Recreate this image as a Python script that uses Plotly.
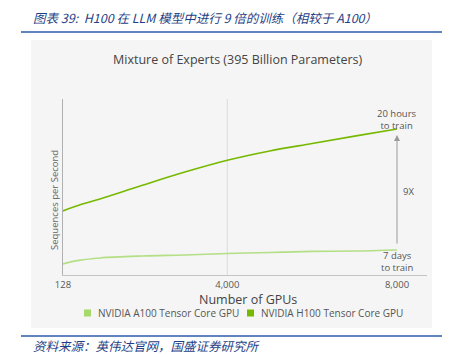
import plotly.graph_objects as go

# ---- data ----
gpus = [128, 500, 1000, 2000, 3000, 4000, 5000, 6000, 7000, 8000]
h100 = [36.4, 39.6, 43.2, 51.0, 58.5, 65.2, 70.5, 74.7, 78.9, 83.0]
a100 = [6.3, 8.3, 9.7, 10.8, 11.4, 12.2, 12.8, 13.4, 13.6, 14.2]
tick_vals = [128, 4000, 8000]
tick_text = ["128", "4,000", "8,000"]
series_names = ["NVIDIA A100 Tensor Core GPU", "NVIDIA H100 Tensor Core GPU"]
series_colors = ["#b3df85", "#76b900"]
legend_colors = ["#a6d86a", "#76b900"]

W, H = 449, 357
L, R, T, B = 63, 427, 99, 275  # plot area in pixels


def px(x):
    return (x - L) / (R - L)


def py(y):
    return (B - y) / (B - T)


fig = go.Figure()
fig.add_trace(go.Scatter(x=gpus, y=a100, mode="lines", name=series_names[0],
                         line=dict(color=series_colors[0], width=1.6, shape="spline"),
                         showlegend=False, hoverinfo="skip"))
fig.add_trace(go.Scatter(x=gpus, y=h100, mode="lines", name=series_names[1],
                         line=dict(color=series_colors[1], width=1.6, shape="spline"),
                         showlegend=False, hoverinfo="skip"))

font = "Open Sans, DejaVu Sans, sans-serif"
cjk = "Noto Sans CJK SC"

shapes = [
    # panel background
    dict(type="rect", xref="paper", yref="paper", x0=px(31), x1=px(432), y0=py(328), y1=py(40),
         fillcolor="#f5f5f5", line=dict(width=0), layer="below"),
    # header / footer rules
    dict(type="line", xref="paper", yref="paper", x0=px(21), x1=px(442), y0=py(32), y1=py(32),
         line=dict(color="#2d5aa8", width=1.6)),
    dict(type="line", xref="paper", yref="paper", x0=px(21), x1=px(442), y0=py(336), y1=py(336),
         line=dict(color="#2d5aa8", width=1.6)),
    # gridline at 4,000
    dict(type="line", xref="x", yref="paper", x0=tick_vals[1], x1=tick_vals[1], y0=0, y1=1,
         line=dict(color="#dcdcdc", width=1), layer="below"),
]

annotations = [
    dict(text="图表 39:  H100 在 LLM 模型中进行 9 倍的训练（相较于 A100）", xref="paper", yref="paper",
         x=px(31), y=py(17), xanchor="left", yanchor="middle", showarrow=False,
         font=dict(family=cjk, size=12.5, color="#1f3f86", style="italic")),
    dict(text="资料来源：英伟达官网，国盛证券研究所", xref="paper", yref="paper",
         x=px(31), y=py(345), xanchor="left", yanchor="middle", showarrow=False,
         font=dict(family=cjk, size=12.5, color="#1f3f86", style="italic")),
    dict(text="Mixture of Experts (395 Billion Parameters)", xref="paper", yref="paper",
         x=px(237), y=py(59), xanchor="center", yanchor="middle", showarrow=False,
         font=dict(family=font, size=12.5, color="#444")),
    dict(text="Sequences per Second", xref="paper", yref="paper", textangle=-90,
         x=px(54), y=py(200), xanchor="center", yanchor="middle", showarrow=False,
         font=dict(family=font, size=9.5, color="#666")),
    dict(text="Number of GPUs", xref="paper", yref="paper",
         x=px(248), y=py(299.5), xanchor="center", yanchor="middle", showarrow=False,
         font=dict(family=font, size=12.5, color="#444")),
    dict(text="20 hours<br>to train", xref="x", yref="y", x=gpus[-1], y=88.6,
         xanchor="center", yanchor="middle", showarrow=False,
         font=dict(family=font, size=9.5, color="#555")),
    dict(text="7 days<br>to train", xref="x", yref="y", x=gpus[-1], y=7.4,
         xanchor="center", yanchor="middle", showarrow=False,
         font=dict(family=font, size=9.5, color="#555")),
    dict(text="9X", xref="x", yref="y", x=gpus[-1], y=47.7, xshift=4,
         xanchor="left", yanchor="middle", showarrow=False,
         font=dict(family=font, size=9.5, color="#555")),
    dict(text="", xref="x", yref="y", x=gpus[-1], y=79.5, axref="x", ayref="y", ax=gpus[-1], ay=17,
         showarrow=True, arrowhead=2, arrowsize=1.2, arrowwidth=1, arrowcolor="#999"),
]

# legend drawn as squares + labels
legend_x = [84, 247]
for name, c, lx in zip(series_names, legend_colors, legend_x):
    shapes.append(dict(type="rect", xref="paper", yref="paper", x0=px(lx), x1=px(lx + 7),
                       y0=py(316.5), y1=py(309.5), fillcolor=c, line=dict(width=0)))
    annotations.append(dict(text=name, xref="paper", yref="paper", x=px(lx + 12), y=py(313),
                            xanchor="left", yanchor="middle", showarrow=False,
                            font=dict(family=font, size=10, color="#555")))

fig.update_layout(
    width=W, height=H,
    margin=dict(l=L, r=W - R, t=T, b=H - B, pad=0),
    paper_bgcolor="white", plot_bgcolor="#f5f5f5",
    shapes=shapes, annotations=annotations,
    showlegend=False,
    xaxis=dict(range=[128, 8707], tickvals=tick_vals, ticktext=tick_text, showgrid=False,
               zeroline=False, showline=True, linecolor="#c4c4c4", linewidth=1.2, ticks="",
               tickfont=dict(family=font, size=9.5, color="#555"), ticklabelstandoff=0),
    yaxis=dict(range=[0, 100], showticklabels=False, showgrid=False, zeroline=False,
               showline=True, linecolor="#b0b0b0", linewidth=1.2, ticks=""),
)

fig.write_html("out.html", config={"displayModeBar": False},
               post_script="document.body.style.margin='0';")
